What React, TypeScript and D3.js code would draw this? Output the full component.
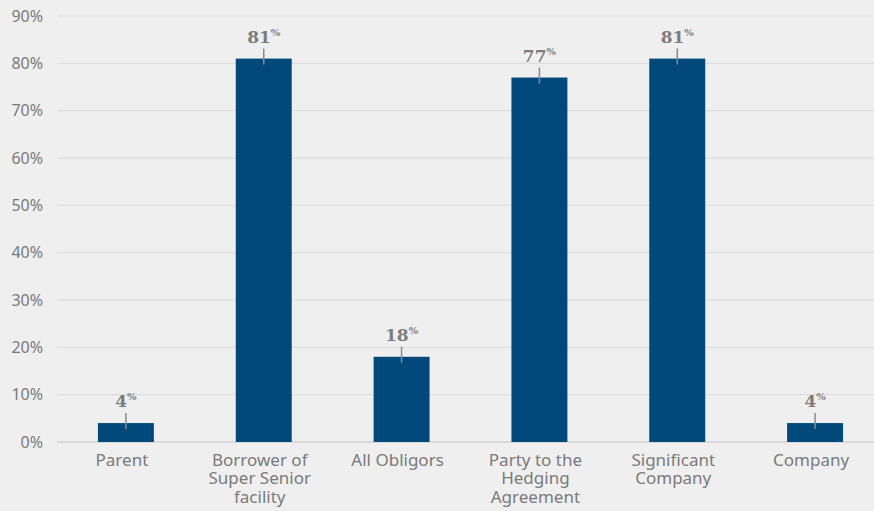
import React from "react";
import * as d3 from "d3";

const categories: string[][] = [
  ["Parent"],
  ["Borrower of", "Super Senior", "facility"],
  ["All Obligors"],
  ["Party to the", "Hedging", "Agreement"],
  ["Significant", "Company"],
  ["Company"],
];
const values: number[] = [4, 81, 18, 77, 81, 4];
const yTicks: number[] = [0, 10, 20, 30, 40, 50, 60, 70, 80, 90];

const W = 874;
const H = 511;
const left = 57;
const right = 884;
const top = 16;
const bottom = 442;

export default function App() {
  const x = d3
    .scaleBand<number>()
    .domain(values.map((_, i) => i))
    .range([left, right])
    .paddingInner(0.594)
    .paddingOuter(0.297);
  const y = d3.scaleLinear().domain([0, 90]).range([bottom, top]);
  const axisFont = "'Noto Sans', 'Open Sans', sans-serif";
  return (
    <svg
      width={W}
      height={H}
      style={{ position: "absolute", left: 0, top: 0, background: "#efefef" }}
    >
      <rect x={0} y={0} width={W} height={H} fill="#efefef" />
      {yTicks.map((t) => (
        <g key={t}>
          <line
            x1={left}
            x2={W}
            y1={y(t)}
            y2={y(t)}
            stroke={t === 0 ? "#d2d2d2" : "#d9d9d9"}
            strokeWidth={t === 0 ? 1.5 : 1}
          />
          <text
            x={43}
            y={y(t)}
            dy="0.36em"
            textAnchor="end"
            fontFamily={axisFont}
            fontSize={16}
            fill="#7a7a7a"
          >
            {t}%
          </text>
        </g>
      ))}
      {values.map((v, i) => {
        const cx = (x(i) as number) + x.bandwidth() / 2;
        return (
          <g key={i}>
            <rect
              x={x(i)}
              y={y(v)}
              width={x.bandwidth()}
              height={y(0) - y(v)}
              fill="#00497a"
            />
            <line
              x1={cx}
              x2={cx}
              y1={y(v) - 10}
              y2={y(v) + 6}
              stroke="#8a8a8a"
              strokeWidth={1.5}
            />
            <text
              x={cx}
              y={y(v) - 16}
              textAnchor="middle"
              fontFamily="'DejaVu Serif', 'Liberation Serif', serif"
              fontWeight="bold"
              fontSize={17}
              fill="#7d7d7d"
            >
              {v}
              <tspan fontSize={10} dy={-7}>
                %
              </tspan>
            </text>
            <text
              textAnchor="middle"
              fontFamily={axisFont}
              fontSize={17}
              fill="#7a7a7a"
            >
              {categories[i].map((line, j) => (
                <tspan key={j} x={cx - 4} y={466 + j * 18.4}>
                  {line}
                </tspan>
              ))}
            </text>
          </g>
        );
      })}
    </svg>
  );
}
